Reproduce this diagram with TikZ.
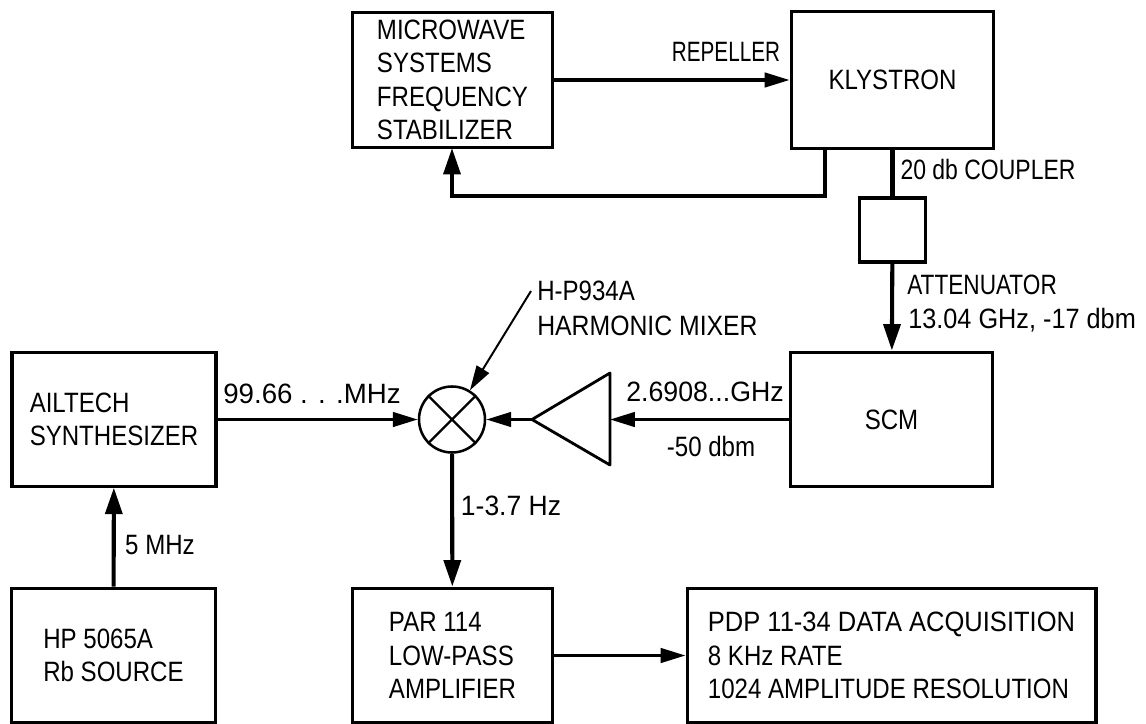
\documentclass[tikz,border=0pt]{standalone}
\usepackage{fontspec}
\setmainfont[FakeStretch=0.86]{Liberation Sans}
\usetikzlibrary{arrows.meta}
\tikzset{
  block/.style={draw,line width=2.2pt,align=left,inner sep=0pt,font=\fontsize{19.9}{23.8}\selectfont},
  lbl/.style={inner sep=0pt,align=left,font=\fontsize{19.9}{23.8}\selectfont},
  sig/.style={line width=2.2pt,-{Triangle[length=.62cm,width=.36cm]}},
  sigv/.style={line width=2.9pt,-{Triangle[length=.66cm,width=.42cm]}},
  wire/.style={line width=2.9pt}
}
\begin{document}
\begin{tikzpicture}[x=.025cm,y=-.025cm]
\useasboundingbox (0,0) rectangle (1146,724);
\node[block,minimum width=5.02cm,minimum height=3.38cm] (microwave) at (452.5,80) {MICROWAVE\\SYSTEMS\\FREQUENCY\\STABILIZER};
\node[block,minimum width=5.07cm,minimum height=3.42cm] (klystron) at (892.5,80) {KLYSTRON};
\node[block,minimum width=1.67cm,minimum height=1.6cm] (coupler) at (892.5,230) {};
\node[block,minimum width=5.07cm,minimum height=3.37cm] (scm) at (891.5,419.5) {SCM};
\node[block,minimum width=5.1cm,minimum height=3.33cm] (ailtech) at (114,419.5) {AILTECH\\SYNTHESIZER};
\node[block,minimum width=5.12cm,minimum height=3.37cm] (hp) at (113.5,655.5) {HP 5065A\\Rb SOURCE};
\node[block,minimum width=5.02cm,minimum height=3.37cm] (par) at (452.5,655.5) {PAR 114\\LOW-PASS\\AMPLIFIER};
\node[block,minimum width=10.22cm,minimum height=3.37cm] (pdp) at (891.5,655.5) {\scalebox{1.06}[1]{PDP 11-34 DATA ACQUISITION}\\8 KHz RATE\\1024 AMPLITUDE RESOLUTION};
\node[draw,circle,line width=1.8pt,minimum size=1.65cm,inner sep=0pt] (mixer) at (452,419.5) {};
\draw[line width=1.6pt] (mixer.45)--(mixer.225) (mixer.135)--(mixer.315);
% amplifier
\coordinate (ampL) at (532,419.5); \coordinate (ampT) at (610,373); \coordinate (ampB) at (610,465); \coordinate (ampR) at (610,419.5);
\draw[line width=2pt,line join=round] (ampL)--(ampT)--(ampB)--cycle;
% connectors
\draw[sig] (microwave)--(klystron);
\coordinate (klyout) at (825,148); \coordinate (stabin) at (452,148);
\draw[sigv] (klyout)--++(0,48)-|(stabin);
\draw[wire] (klystron)--(coupler);
\draw[sigv] (coupler)--(scm);
\draw[sig] (scm)--(ampR);
\draw[sig] (ampL)--(mixer);
\draw[sig] (ailtech)--(mixer);
\draw[sigv] (hp)--(ailtech);
\draw[sigv] (mixer)--(par);
\draw[sig] (par)--(pdp);
\coordinate (note) at (531,291);
\draw[line width=1.4pt,-{Triangle[length=.62cm,width=.36cm]}] (note)--(mixer);
% labels
\node[lbl,xscale=.86] (repeller) at (726,52) {REPELLER};
\node[lbl,xscale=.955] (cplabel) at (988,169) {20 db COUPLER};
\node[lbl,anchor=west,xscale=.94] (attlabel) at (907,285) {ATTENUATOR};
\node[lbl,anchor=west,xscale=1.05] (freqlabel) at (908,320) {13.04 GHz, -17 dbm};
\node[lbl,anchor=west] (hplabel) at (537,291) {H-P934A};
\node[lbl,anchor=west,xscale=1.03] (mixlabel) at (537,326) {HARMONIC MIXER};
\node[lbl,xscale=1.11] (ghzlabel) at (705,392) {2.6908...GHz};
\node[lbl] (dbmlabel) at (711,446) {-50 dbm};
\node[lbl,xscale=1.15] (mhzlabel) at (312,394) {99.66 . . .MHz};
\node[lbl] (fivelabel) at (160,545) {5 MHz};
\node[lbl,xscale=1.1] (hzlabel) at (511,506) {1-3.7 Hz};
\end{tikzpicture}
\end{document}
